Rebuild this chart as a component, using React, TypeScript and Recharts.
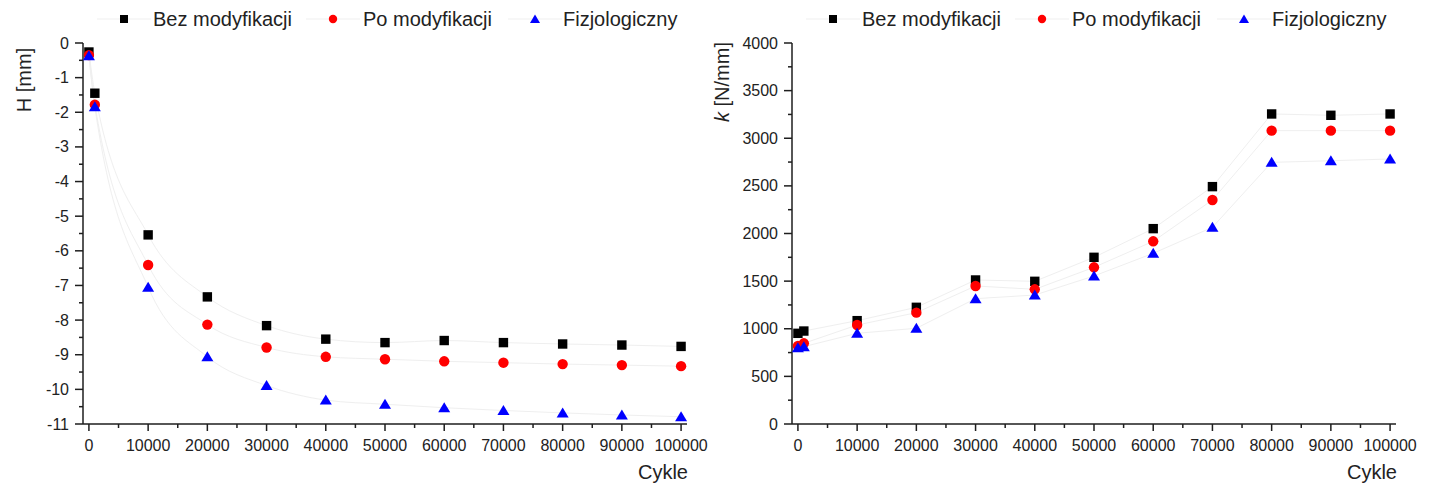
import React from 'react';
import { LineChart, Line, XAxis, YAxis, Legend } from 'recharts';

const cycles = [0, 1000, 10000, 20000, 30000, 40000, 50000, 60000, 70000, 80000, 90000, 100000];

const hBez = [-0.26, -1.45, -5.54, -7.33, -8.16, -8.55, -8.65, -8.59, -8.65, -8.69, -8.72, -8.76];
const hPo = [-0.35, -1.78, -6.41, -8.13, -8.79, -9.06, -9.13, -9.19, -9.23, -9.27, -9.30, -9.33];
const hFiz = [-0.37, -1.84, -7.05, -9.06, -9.89, -10.31, -10.43, -10.53, -10.61, -10.68, -10.74, -10.79];

const kBez = [952, 976, 1085, 1225, 1512, 1498, 1750, 2051, 2492, 3255, 3241, 3255];
const kPo = [819, 847, 1039, 1169, 1449, 1414, 1645, 1918, 2352, 3080, 3080, 3080];
const kFiz = [801, 812, 952, 1005, 1316, 1354, 1554, 1792, 2065, 2747, 2764, 2782];

const seriesNames = ['Bez modyfikacji', 'Po modyfikacji', 'Fizjologiczny'];

const xTicks = [0, 5000, 10000, 15000, 20000, 25000, 30000, 35000, 40000, 45000, 50000, 55000, 60000, 65000, 70000, 75000, 80000, 85000, 90000, 95000, 100000];
const hTicks = [-11, -10.5, -10, -9.5, -9, -8.5, -8, -7.5, -7, -6.5, -6, -5.5, -5, -4.5, -4, -3.5, -3, -2.5, -2, -1.5, -1, -0.5, 0];
const kTicks = [0, 250, 500, 750, 1000, 1250, 1500, 1750, 2000, 2250, 2500, 2750, 3000, 3250, 3500, 3750, 4000];

const hData = cycles.map((c, i) => ({ c, a: hBez[i], b: hPo[i], f: hFiz[i] }));
const kData = cycles.map((c, i) => ({ c, a: kBez[i], b: kPo[i], f: kFiz[i] }));

const FONT = "'Liberation Sans', Arial, sans-serif";
const AXIS = '#1e1e1e';
const TEXT = '#222';
const LINE = '#efefef';

const SquareDot = (p: any) => (
  <rect key={`s${p.index}`} x={p.cx - 4.7} y={p.cy - 4.7} width={9.4} height={9.4} fill="#000" />
);
const CircleDot = (p: any) => (
  <circle key={`c${p.index}`} cx={p.cx} cy={p.cy} r={5.2} fill="#ff0000" />
);
const TriDot = (p: any) => (
  <polygon
    key={`t${p.index}`}
    points={`${p.cx},${p.cy - 5.5} ${p.cx + 6},${p.cy + 4.5} ${p.cx - 6},${p.cy + 4.5}`}
    fill="#0000ff"
  />
);

const XTick = (p: any) => {
  const v = p.payload.value;
  const major = v % 10000 === 0;
  return (
    <g>
      <line x1={p.x} x2={p.x} y1={p.y} y2={p.y + (major ? 7 : 4)} stroke={AXIS} strokeWidth={1.5} />
      {major && (
        <text x={p.x} y={p.y + 27} textAnchor="middle" fontSize={16} fill={TEXT} fontFamily={FONT}>
          {v}
        </text>
      )}
    </g>
  );
};

const makeYTick = (isMajor: (v: number) => boolean) => (p: any) => {
  const v = p.payload.value;
  const major = isMajor(v);
  return (
    <g>
      <line x1={p.x - (major ? 8 : 4)} x2={p.x} y1={p.y} y2={p.y} stroke={AXIS} strokeWidth={1.5} />
      {major && (
        <text x={p.x - 14} y={p.y + 5.5} textAnchor="end" fontSize={16} fill={TEXT} fontFamily={FONT}>
          {v}
        </text>
      )}
    </g>
  );
};

const LegendContent = () => {
  const iconX = [124, 333, 535];
  const textX = [153, 363, 563];
  return (
    <div style={{ position: 'relative', width: 709, height: 40 }}>
      <svg width={709} height={40} style={{ position: 'absolute', left: 0, top: 0 }}>
        {iconX.map((x, i) => (
          <line key={`l${i}`} x1={x - 27} x2={x + 27} y1={19} y2={19} stroke={LINE} strokeWidth={1} />
        ))}
        <rect x={iconX[0] - 4} y={15} width={8} height={8} fill="#000" />
        <circle cx={iconX[1]} cy={19} r={4.2} fill="#ff0000" />
        <polygon points={`${iconX[2]},${14.5} ${iconX[2] + 5},${23} ${iconX[2] - 5},${23}`} fill="#0000ff" />
        {seriesNames.map((n, i) => (
          <text key={`t${i}`} x={textX[i]} y={26} fontSize={20} fill={TEXT} fontFamily={FONT}>
            {n}
          </text>
        ))}
      </svg>
    </div>
  );
};

type PanelProps = {
  data: any[];
  width: number;
  yDomain: [number, number];
  yTicks: number[];
  isMajorY: (v: number) => boolean;
  yLabel: React.ReactNode;
  yLabelX: number;
  yLabelY: number;
  lineType: 'monotone' | 'linear';
};

const Panel = ({ data, width, yDomain, yTicks, isMajorY, yLabel, yLabelX, yLabelY, lineType }: PanelProps) => (
  <LineChart width={width} height={484} data={data} margin={{ top: 43, right: width - 687, bottom: 0, left: 0 }}>
    <XAxis
      dataKey="c"
      type="number"
      domain={[-1000, 101000]}
      ticks={xTicks}
      interval={0}
      tickSize={0}
      tickMargin={0}
      tickLine={false}
      height={60}
      axisLine={{ stroke: AXIS, strokeWidth: 1.5 }}
      tick={<XTick />}
      label={{
        content: (lp: any) => (
          <text
            x={lp.viewBox.x + lp.viewBox.width + 1}
            y={lp.viewBox.y + 55}
            textAnchor="end"
            fontSize={20}
            fill={TEXT}
            fontFamily={FONT}
          >
            Cykle
          </text>
        ),
      }}
    />
    <YAxis
      type="number"
      domain={yDomain}
      ticks={yTicks}
      interval={0}
      width={83}
      tickSize={0}
      tickMargin={0}
      tickLine={false}
      allowDataOverflow
      axisLine={{ stroke: AXIS, strokeWidth: 1.5 }}
      tick={makeYTick(isMajorY)}
      label={{
        content: () => (
          <text
            x={yLabelX}
            y={yLabelY}
            transform={`rotate(-90 ${yLabelX} ${yLabelY})`}
            textAnchor="middle"
            fontSize={20}
            fill={TEXT}
            fontFamily={FONT}
          >
            {yLabel}
          </text>
        ),
      }}
    />
    <Legend
      layout="horizontal"
      verticalAlign="middle"
      align="center"
      wrapperStyle={{ position: 'absolute', top: 0, left: 0, width: 709, height: 40 }}
      content={<LegendContent />}
    />
    <Line dataKey="a" name={seriesNames[0]} type={lineType} stroke={LINE} strokeWidth={1} dot={SquareDot} activeDot={false} isAnimationActive={false} />
    <Line dataKey="b" name={seriesNames[1]} type={lineType} stroke={LINE} strokeWidth={1} dot={CircleDot} activeDot={false} isAnimationActive={false} />
    <Line dataKey="f" name={seriesNames[2]} type={lineType} stroke={LINE} strokeWidth={1} dot={TriDot} activeDot={false} isAnimationActive={false} />
  </LineChart>
);

export default function App() {
  return (
    <div style={{ position: 'absolute', left: 0, top: 0, width: 1429, height: 484, background: '#fff', fontFamily: FONT }}>
      <div style={{ position: 'absolute', left: 0, top: 0 }}>
        <Panel
          data={hData}
          width={709}
          yDomain={[-11, 0]}
          yTicks={hTicks}
          isMajorY={(v) => Number.isInteger(v)}
          yLabel="H [mm]"
          yLabelX={31}
          yLabelY={80}
          lineType="monotone"
        />
      </div>
      <div style={{ position: 'absolute', left: 709, top: 0 }}>
        <Panel
          data={kData}
          width={720}
          yDomain={[0, 4000]}
          yTicks={kTicks}
          isMajorY={(v) => v % 500 === 0}
          yLabel={
            <>
              <tspan fontStyle="italic">k</tspan>
              <tspan> [N/mm]</tspan>
            </>
          }
          yLabelX={20}
          yLabelY={82}
          lineType="linear"
        />
      </div>
    </div>
  );
}
